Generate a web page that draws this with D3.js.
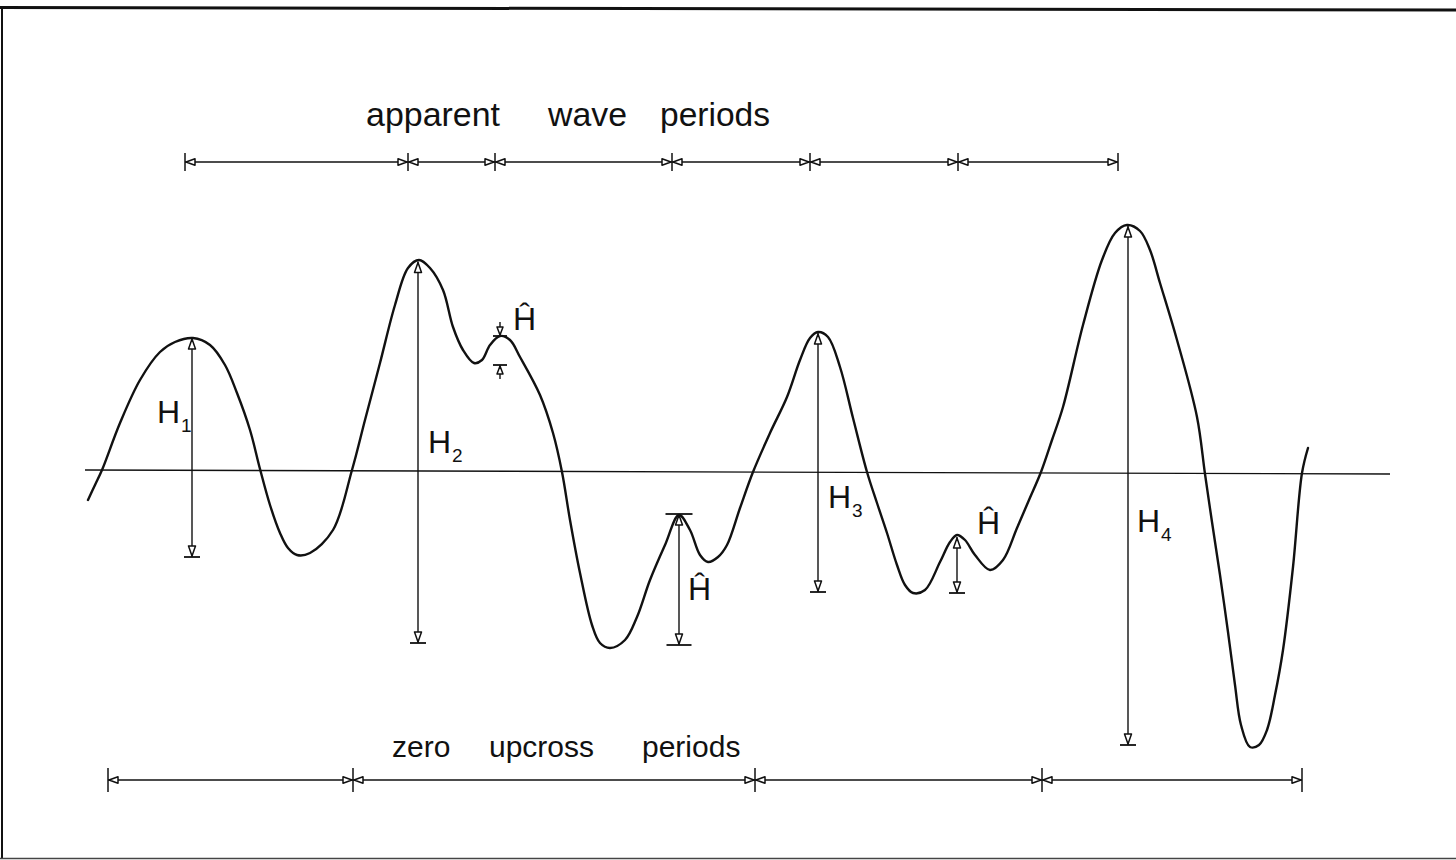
<!DOCTYPE html>
<html>
<head>
<meta charset="utf-8">
<script src="https://cdn.jsdelivr.net/npm/d3@7"></script>
<style>
  html, body { margin: 0; padding: 0; background: #fff; }
  svg { display: block; }
  text { font-family: "Liberation Sans", Arial, sans-serif; fill: #111; }
</style>
</head>
<body>
<svg id="chart" width="1456" height="860"></svg>
<script>
// ---- data (time units, surface elevation units) ----
const waveTime = [8.8, 9.5, 10.2, 12.0, 14.0, 16.0, 17.5, 19.3, 21.0, 22.5, 23.7, 25.0, 26.0, 27.0, 28.0, 28.8, 29.7, 31.0, 33.3, 35.2, 36.5, 38.0, 39.5, 40.8, 41.9, 43.0, 44.3, 45.3, 46.3, 47.4, 48.2, 49.0, 50.0, 51.0, 52.0, 54.0, 55.3, 56.2, 57.0, 58.0, 59.2, 60.0, 61.0, 62.5, 63.7, 65.0, 66.5, 67.9, 69.0, 70.0, 70.8, 71.8, 72.7, 74.0, 75.3, 77.0, 78.7, 80.0, 81.0, 81.8, 82.8, 84.0, 85.3, 86.7, 87.7, 88.7, 89.7, 90.5, 91.3, 92.5, 94.0, 95.0, 95.7, 96.5, 97.5, 99.0, 100.3, 101.7, 102.9, 104.1, 105.2, 106.3, 108.3, 110.2, 111.5, 112.7, 114.0, 115.0, 116.0, 117.7, 119.7, 120.5, 121.2, 122.0, 122.8, 123.5, 124.1, 125.0, 125.9, 126.7, 127.5, 128.3, 129.3, 130.2, 130.8];
const waveElev = [-2.85, -1.35, 0.15, 4.85, 9.15, 11.95, 12.95, 13.35, 12.65, 10.65, 7.85, 4.15, 0.25, -3.35, -6.15, -7.65, -8.35, -8.15, -5.85, 0.15, 5.15, 10.85, 16.65, 20.35, 21.15, 20.35, 18.15, 14.45, 12.15, 10.85, 11.15, 12.65, 13.55, 13.15, 11.45, 7.65, 3.85, -0.05, -4.85, -10.15, -15.35, -17.15, -17.65, -16.85, -14.55, -10.85, -7.35, -4.35, -5.85, -8.35, -9.05, -8.55, -7.35, -3.65, -0.05, 3.85, 7.45, 11.15, 13.35, 13.95, 13.45, 10.45, 5.35, -0.05, -3.15, -6.15, -9.35, -11.35, -12.15, -11.85, -9.05, -7.05, -6.35, -6.85, -8.35, -9.85, -8.85, -5.65, -2.85, -0.05, 3.15, 6.45, 14.65, 21.15, 23.85, 24.65, 24.05, 22.15, 18.85, 13.15, 5.45, -0.25, -5.05, -10.35, -16.05, -21.35, -25.35, -27.55, -27.35, -25.85, -22.35, -17.85, -9.55, -0.15, 2.35];

// still water level extent
const zeroLineTime = [8.5, 139.0];

// wave height markers
const heightLabels = ["H1", "H2", "Ĥ", "Ĥ", "H3", "Ĥ", "H4"];
const heightTime   = [19.2, 41.8, 50.0, 67.9, 81.8, 95.7, 112.8];
const heightTop    = [13.35, 21.0, 13.55, -4.25, 13.85, -6.55, 24.55];
const heightBottom = [-8.55, -17.15, 10.65, -17.35, -12.05, -12.15, -27.35];

// period ticks
const apparentPeriodTicks = [18.5, 40.8, 49.5, 67.2, 81.0, 95.8, 111.8];
const upcrossPeriodTicks  = [10.8, 35.3, 75.5, 104.2, 130.2];

// titles
const apparentTitleWords = ["apparent", "wave", "periods"];
const upcrossTitleWords  = ["zero", "upcross", "periods"];

// ---- drawing ----
const W = 1456, H = 860;
const svg = d3.select("#chart");
const x = d3.scaleLinear().domain([0, 145.6]).range([0, W]);
const y = d3.scaleLinear().domain([-10, 10]).range([571.5, 371.5]);

const ink = "#111";

// frame
svg.append("line").attr("x1", 0).attr("y1", 7.5).attr("x2", W).attr("y2", 10)
  .attr("stroke", ink).attr("stroke-width", 3);
svg.append("line").attr("x1", 2).attr("y1", 7).attr("x2", 2).attr("y2", 859)
  .attr("stroke", ink).attr("stroke-width", 2);
svg.append("line").attr("x1", 0).attr("y1", 858.5).attr("x2", W).attr("y2", 858.5)
  .attr("stroke", "#444").attr("stroke-width", 1.6);

// zero line
svg.append("line")
  .attr("x1", x(zeroLineTime[0])).attr("y1", y(0) - 1.5)
  .attr("x2", x(zeroLineTime[1])).attr("y2", y(0) + 2.5)
  .attr("stroke", ink).attr("stroke-width", 1.4);

// wave profile
const pts = waveTime.map((t, i) => [t, waveElev[i]]);
svg.append("path")
  .datum(pts)
  .attr("d", d3.line().x(d => x(d[0])).y(d => y(d[1])).curve(d3.curveCatmullRom.alpha(0.5)))
  .attr("fill", "none").attr("stroke", ink).attr("stroke-width", 2.4)
  .attr("stroke-linejoin", "round").attr("stroke-linecap", "round");

// arrowhead helper: tip at (px,py), dir = 'up'|'down'|'left'|'right'
function arrowHead(g, px, py, dir, len = 10, hw = 3.5) {
  let p;
  if (dir === "up")    p = [[px, py], [px - hw, py + len], [px + hw, py + len]];
  if (dir === "down")  p = [[px, py], [px - hw, py - len], [px + hw, py - len]];
  if (dir === "left")  p = [[px, py], [px + len, py - hw], [px + len, py + hw]];
  if (dir === "right") p = [[px, py], [px - len, py - hw], [px - len, py + hw]];
  g.append("path").attr("d", "M" + p.map(q => q.join(",")).join("L") + "Z")
    .attr("fill", "#fff").attr("stroke", ink).attr("stroke-width", 1.5)
    .attr("stroke-linejoin", "round");
}
function hbar(g, cx, cy, half) {
  g.append("line").attr("x1", cx - half).attr("x2", cx + half)
    .attr("y1", cy).attr("y2", cy).attr("stroke", ink).attr("stroke-width", 1.8);
}

// height markers
const mk = svg.append("g");
heightTime.forEach((t, i) => {
  const cx = x(t), yt = y(heightTop[i]), yb = y(heightBottom[i]);
  if (i === 2) {
    // small inner wave: arrows pointing inward from outside
    mk.append("line").attr("x1", cx).attr("x2", cx).attr("y1", yt - 14).attr("y2", yt)
      .attr("stroke", ink).attr("stroke-width", 1.4);
    arrowHead(mk, cx, yt - 1, "down", 8, 3);
    hbar(mk, cx, yt, 7);
    mk.append("line").attr("x1", cx).attr("x2", cx).attr("y1", yb).attr("y2", yb + 14)
      .attr("stroke", ink).attr("stroke-width", 1.4);
    arrowHead(mk, cx, yb + 1, "up", 8, 3);
    hbar(mk, cx, yb, 7);
    return;
  }
  mk.append("line").attr("x1", cx).attr("x2", cx).attr("y1", yt).attr("y2", yb)
    .attr("stroke", ink).attr("stroke-width", 1.4);
  arrowHead(mk, cx, yt + 1, "up");
  arrowHead(mk, cx, yb - 1, "down");
  hbar(mk, cx, yb, i === 3 ? 12.5 : 8);
  if (i === 3) hbar(mk, cx, yt, 13.5);
});

// height labels (offsets relative to marker line, in px)
const labelPlace = [
  {dx: -35, y: 423, sub: "1"},
  {dx: 10, y: 453, sub: "2"},
  {dx: 13, y: 330, sub: ""},
  {dx: 9, y: 600, sub: ""},
  {dx: 10, y: 508, sub: "3"},
  {dx: 20, y: 534, sub: ""},
  {dx: 9, y: 532, sub: "4"}
];
heightLabels.forEach((lab, i) => {
  const pl = labelPlace[i];
  const txt = svg.append("text")
    .attr("x", x(heightTime[i]) + pl.dx).attr("y", pl.y)
    .attr("font-size", 32).attr("font-weight", 300);
  txt.append("tspan").text(lab.charAt(0));
  if (pl.sub) {
    txt.append("tspan").attr("font-size", 19).attr("dy", 9).attr("dx", 1).text(pl.sub);
  }
});

// period lines
function periodLine(ticks, yy, tickHalf) {
  const g = svg.append("g");
  g.append("line").attr("x1", x(ticks[0])).attr("x2", x(ticks[ticks.length - 1]))
    .attr("y1", yy).attr("y2", yy).attr("stroke", ink).attr("stroke-width", 1.5);
  ticks.forEach(t => {
    g.append("line").attr("x1", x(t)).attr("x2", x(t))
      .attr("y1", yy - tickHalf).attr("y2", yy + tickHalf)
      .attr("stroke", ink).attr("stroke-width", 1.5);
  });
  for (let i = 0; i < ticks.length - 1; i++) {
    arrowHead(g, x(ticks[i]) + 1, yy, "left", 9, 3.2);
    arrowHead(g, x(ticks[i + 1]) - 1, yy, "right", 9, 3.2);
  }
}
periodLine(apparentPeriodTicks, 162, 9);
periodLine(upcrossPeriodTicks, 780, 12);

// titles
const topWordX = [366, 548, 660], topWordW = [134, 79, 110];
apparentTitleWords.forEach((w, i) => {
  svg.append("text").attr("x", topWordX[i]).attr("y", 126)
    .attr("font-size", 33).attr("textLength", topWordW[i])
    .attr("lengthAdjust", "spacingAndGlyphs").text(w);
});
const botWordX = [392, 489, 642];
upcrossTitleWords.forEach((w, i) => {
  svg.append("text").attr("x", botWordX[i]).attr("y", 757)
    .attr("font-size", 30).text(w);
});
</script>
</body>
</html>
